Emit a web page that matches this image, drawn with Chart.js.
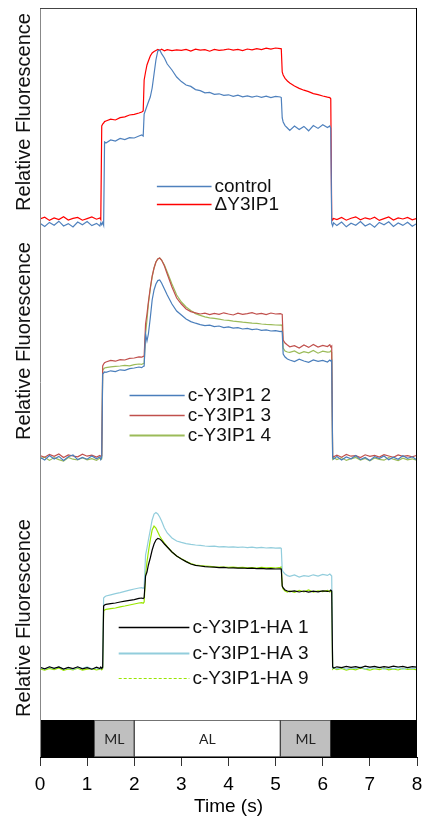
<!DOCTYPE html>
<html>
<head>
<meta charset="utf-8">
<title>Relative Fluorescence</title>
<script src="https://cdn.jsdelivr.net/npm/chart.js@4/dist/chart.umd.min.js"></script>
<style>
  html, body { margin: 0; padding: 0; background: #fff; }
  #wrap { position: relative; width: 422px; height: 819px; }
</style>
</head>
<body>
<div id="wrap"><canvas id="fluorChart"></canvas></div>
<script>
// ================= DATA =================
// time points (s), shared by every trace
const time = [
  0, 0.1, 0.2, 0.3, 0.4, 0.5, 0.6, 0.7, 0.8, 0.9, 1.0, 1.1, 1.2,
  1.27, 1.29, 1.31, 1.33, 1.35, 1.37,
  1.4, 1.5, 1.6, 1.7, 1.8, 1.9, 2.0, 2.1,
  2.16, 2.19, 2.21, 2.24, 2.27, 2.3, 2.34, 2.38, 2.42, 2.46, 2.5, 2.54, 2.58, 2.64, 2.7, 2.8, 2.9,
  3.0, 3.1, 3.2, 3.3, 3.4, 3.5, 3.6, 3.7, 3.8, 3.9, 4.0, 4.1, 4.2, 4.3, 4.4, 4.5, 4.6, 4.7, 4.8, 4.9, 5.0, 5.1,
  5.12, 5.14, 5.16, 5.2, 5.25,
  5.3, 5.4, 5.5, 5.6, 5.7, 5.8, 5.9, 6.0, 6.1,
  6.15, 6.17, 6.19, 6.21, 6.23,
  6.3, 6.4, 6.5, 6.6, 6.7, 6.8, 6.9, 7.0, 7.1, 7.2, 7.3, 7.4, 7.5, 7.6, 7.7, 7.8, 7.9, 8.0
];

// top panel
const control = [
  0.004, -0.012, 0.008, -0.006, 0.014, -0.01, 0.002, -0.015, 0.01, -0.004, 0.012, -0.008, 0.003,
  -0.01, 0.006, -0.004, 0.008, -0.006, 0.41,
  0.405, 0.42, 0.415, 0.428, 0.422, 0.432, 0.43, 0.44,
  0.445, 0.44, 0.55, 0.57, 0.59, 0.61, 0.635, 0.68, 0.75, 0.82, 0.865, 0.87, 0.852, 0.83, 0.80, 0.77, 0.735,
  0.712, 0.695, 0.688, 0.672, 0.667, 0.656, 0.658, 0.648, 0.651, 0.643, 0.646, 0.638, 0.644, 0.636, 0.641, 0.634, 0.64, 0.633, 0.639, 0.632, 0.638, 0.635,
  0.632, 0.53, 0.51, 0.492, 0.48,
  0.468, 0.49, 0.472, 0.488, 0.466, 0.492, 0.478, 0.496, 0.482,
  0.49, 0.478, 0.004, -0.01, 0.006,
  -0.008, 0.01, -0.014, 0.004, -0.006, 0.012, -0.01, 0.002, -0.016, 0.008, -0.004, 0.011, -0.012, 0.005, -0.007, 0.009, -0.011, 0.003
];
const deltaY3IP1 = [
  0.025, 0.034, 0.018, 0.03, 0.022, 0.036, 0.02, 0.028, 0.033, 0.019, 0.027, 0.035, 0.024,
  0.03, 0.022, 0.49, 0.5, 0.505, 0.512,
  0.515, 0.524, 0.52, 0.532, 0.536, 0.545, 0.548, 0.555,
  0.56, 0.565, 0.72, 0.76, 0.795, 0.815, 0.84, 0.855, 0.862, 0.868, 0.873, 0.868, 0.874, 0.866, 0.872, 0.867, 0.871,
  0.868, 0.873, 0.865, 0.874, 0.869, 0.872, 0.864, 0.873, 0.868, 0.871, 0.875, 0.869, 0.873, 0.867, 0.875, 0.871, 0.877, 0.872, 0.879, 0.874, 0.88, 0.877,
  0.876, 0.76, 0.745, 0.728, 0.715,
  0.705, 0.69, 0.678, 0.669, 0.662, 0.652, 0.647, 0.64, 0.634,
  0.632, 0.626, 0.03, 0.02, 0.028,
  0.022, 0.033, 0.019, 0.029, 0.036, 0.021, 0.031, 0.024, 0.034, 0.018, 0.027, 0.035, 0.02, 0.03, 0.025, 0.033, 0.021, 0.028
];

// middle panel
const cY3IP1_2 = [
  0.004, -0.01, 0.012, -0.005, 0.008, -0.012, 0.006, 0.015, -0.008, 0.003, -0.006, 0.01, -0.004,
  0.006, -0.008, 0.004, 0.42, 0.425, 0.43,
  0.428, 0.436, 0.432, 0.441, 0.438, 0.447, 0.45, 0.455,
  0.452, 0.458, 0.46, 0.62, 0.585, 0.62, 0.70, 0.79, 0.84, 0.87, 0.887, 0.89, 0.875, 0.845, 0.815, 0.77, 0.735,
  0.715, 0.695, 0.682, 0.674, 0.667, 0.662, 0.664, 0.657, 0.66, 0.652, 0.656, 0.649, 0.652, 0.645, 0.648, 0.642, 0.645, 0.638, 0.641, 0.635, 0.637, 0.632,
  0.634, 0.63, 0.52, 0.505, 0.495,
  0.49, 0.482, 0.494, 0.485, 0.478, 0.49, 0.483, 0.488, 0.48,
  0.49, 0.485, 0.488, 0.002, -0.006,
  0.008, -0.01, 0.005, -0.004, 0.012, -0.008, 0.003, -0.012, 0.007, -0.003, 0.01, -0.009, 0.004, -0.006, 0.011, -0.002, 0.006, -0.01
];
const cY3IP1_3 = [
  0.012, 0.004, 0.018, 0.008, 0.02, 0.002, 0.015, 0.01, 0.006, 0.019, 0.009, 0.014, 0.005,
  0.013, 0.008, 0.012, 0.46, 0.47, 0.476,
  0.48, 0.488, 0.484, 0.492, 0.49, 0.498, 0.5, 0.506,
  0.504, 0.508, 0.51, 0.67, 0.72, 0.78, 0.85, 0.91, 0.95, 0.98, 0.995, 1.0, 0.99, 0.96, 0.92, 0.855, 0.80,
  0.77, 0.745, 0.732, 0.726, 0.72, 0.724, 0.717, 0.723, 0.718, 0.726, 0.72, 0.715, 0.724, 0.718, 0.722, 0.727, 0.719, 0.723, 0.717, 0.725, 0.72, 0.722,
  0.72, 0.718, 0.59, 0.575, 0.565,
  0.556, 0.562, 0.55, 0.565, 0.553, 0.568, 0.555, 0.563, 0.557,
  0.566, 0.555, 0.56, 0.012, 0.006,
  0.014, 0.004, 0.018, 0.009, 0.012, 0.002, 0.016, 0.008, 0.013, 0.005, 0.017, 0.01, 0.003, 0.015, 0.008, 0.012, 0.006, 0.014
];
const cY3IP1_4 = [
  -0.005, 0.004, -0.012, 0.002, -0.008, -0.015, 0.003, -0.006, -0.01, 0.001, -0.009, -0.003, -0.012,
  0.0, -0.007, -0.004, 0.44, 0.445, 0.45,
  0.452, 0.456, 0.458, 0.46, 0.463, 0.461, 0.467, 0.47,
  0.468, 0.472, 0.474, 0.62, 0.69, 0.77, 0.845, 0.905, 0.95, 0.98, 0.995, 1.0, 0.99, 0.965, 0.93, 0.87, 0.815,
  0.78, 0.755, 0.737, 0.722, 0.713, 0.706, 0.701, 0.698, 0.694, 0.69, 0.688, 0.684, 0.682, 0.679, 0.677, 0.674, 0.673, 0.67, 0.668, 0.667, 0.665, 0.664,
  0.665, 0.66, 0.55, 0.535, 0.53,
  0.528, 0.535, 0.522, 0.532, 0.526, 0.538, 0.524, 0.534, 0.529,
  0.53, 0.535, 0.528, -0.005, 0.002,
  -0.008, 0.002, -0.012, -0.004, 0.003, -0.01, -0.002, -0.014, 0.0, -0.007, -0.011, 0.002, -0.006, -0.013, -0.001, -0.009, -0.004, -0.012
];

// bottom panel
const cY3IP1HA_1 = [
  0.004, -0.004, 0.006, -0.002, 0.005, -0.005, 0.003, -0.003, 0.006, -0.004, 0.002, -0.006, 0.004,
  -0.003, 0.005, -0.002, 0.004, 0.31, 0.315,
  0.318, 0.322, 0.325, 0.33, 0.334, 0.338, 0.342, 0.348,
  0.35, 0.347, 0.352, 0.46, 0.48, 0.515, 0.55, 0.59, 0.62, 0.64, 0.648, 0.645, 0.637, 0.62, 0.605, 0.58, 0.56,
  0.545, 0.532, 0.52, 0.513, 0.51, 0.507, 0.505, 0.504, 0.502, 0.503, 0.5, 0.501, 0.499, 0.5, 0.498, 0.499, 0.497, 0.498, 0.496, 0.497, 0.495, 0.496,
  0.495, 0.41, 0.40, 0.39, 0.385,
  0.382, 0.386, 0.38, 0.385, 0.379, 0.384, 0.381, 0.386, 0.383,
  0.385, 0.39, 0.385, 0.005, 0.0,
  0.006, 0.002, 0.008, 0.003, 0.007, 0.001, 0.009, 0.004, 0.008, 0.002, 0.007, 0.003, 0.009, 0.005, 0.008, 0.002, 0.007, 0.004
];
const cY3IP1HA_3 = [
  0.002, -0.006, 0.004, -0.003, 0.006, -0.005, 0.001, -0.007, 0.003, -0.002, 0.005, -0.004, 0.0,
  -0.005, 0.003, -0.002, 0.002, 0.35, 0.355,
  0.36, 0.366, 0.372, 0.377, 0.383, 0.389, 0.395, 0.4,
  0.402, 0.398, 0.404, 0.565, 0.6, 0.64, 0.69, 0.74, 0.77, 0.777, 0.77, 0.755, 0.735, 0.70, 0.675, 0.65, 0.635,
  0.628, 0.622, 0.618, 0.615, 0.613, 0.61, 0.608, 0.609, 0.606, 0.607, 0.604, 0.606, 0.603, 0.605, 0.602, 0.604, 0.601, 0.603, 0.6, 0.602, 0.599, 0.601,
  0.598, 0.49, 0.48, 0.47, 0.462,
  0.458, 0.465, 0.455, 0.462, 0.458, 0.466, 0.46, 0.468, 0.463,
  0.47, 0.465, 0.46, 0.0, 0.004,
  -0.004, 0.003, -0.006, 0.001, -0.003, 0.005, -0.005, 0.002, -0.002, 0.004, -0.006, 0.0, -0.004, 0.003, -0.005, 0.002, -0.003, 0.001
];
const cY3IP1HA_9 = [
  -0.004, -0.01, -0.002, -0.008, 0.0, -0.012, -0.005, -0.009, -0.001, -0.011, -0.006, -0.003, -0.01,
  -0.006, -0.002, -0.009, -0.004, 0.285, 0.29,
  0.293, 0.297, 0.3, 0.306, 0.31, 0.315, 0.32, 0.325,
  0.327, 0.324, 0.33, 0.47, 0.53, 0.58, 0.64, 0.69, 0.71, 0.70, 0.68, 0.66, 0.645, 0.625, 0.607, 0.58, 0.56,
  0.546, 0.533, 0.522, 0.515, 0.512, 0.51, 0.508, 0.506, 0.505, 0.504, 0.503, 0.504, 0.502, 0.503, 0.501, 0.502, 0.5, 0.503, 0.501, 0.502, 0.5, 0.503,
  0.505, 0.41, 0.395, 0.385, 0.38,
  0.385, 0.378, 0.388, 0.381, 0.39, 0.379, 0.386, 0.382, 0.388,
  0.38, 0.385, 0.38, -0.005, 0.0,
  -0.008, -0.002, -0.01, -0.004, -0.009, 0.0, -0.006, -0.011, -0.003, -0.008, -0.001, -0.009, -0.005, -0.01, -0.002, -0.007, -0.004, -0.009
];

const seriesLabels = ["control", "ΔY3IP1", "c-Y3IP1 2", "c-Y3IP1 3", "c-Y3IP1 4",
                      "c-Y3IP1-HA 1", "c-Y3IP1-HA 3", "c-Y3IP1-HA 9"];
const seriesValues = [control, deltaY3IP1, cY3IP1_2, cY3IP1_3, cY3IP1_4,
                      cY3IP1HA_1, cY3IP1HA_3, cY3IP1HA_9];

// light regime under the traces (s)
const lightStart = [0, 1.15, 2.0, 5.1, 6.17];
const lightEnd = [1.15, 2.0, 5.1, 6.17, 8];
const lightNames = ["", "ML", "AL", "ML", ""];

const xTickValues = [0, 1, 2, 3, 4, 5, 6, 7, 8];

// ================= STYLE / LAYOUT =================
const FONT = "'Liberation Sans', Arial, sans-serif";
const seriesColors = ["#4f81bd", "#ff0000", "#4a7ebb", "#c0504d", "#9bbb59",
                      "#000000", "#92cddc", "#99e600"];
const seriesAxis = ["yTop", "yTop", "yMid", "yMid", "yMid", "yLow", "yLow", "yLow"];
const legendWidth = [1.3, 1.3, 1.3, 1.3, 2, 1.5, 2, 1];
const legendDash = [[], [], [], [], [], [], [], [3, 2]];
const lightColors = ["#000000", "#bfbfbf", "#ffffff", "#bfbfbf", "#000000"];

// legend placement per series (x in s, y in panel units)
const legendFrom = [2.48, 2.48, 1.9, 1.9, 1.9, 1.67, 1.67, 1.67];
const legendTo = [3.64, 3.64, 3.07, 3.07, 3.07, 3.17, 3.17, 3.17];
const legendRow = [0.19, 0.10, 0.315, 0.215, 0.115, 0.205, 0.075, -0.05];
const titleAt = { yTop: 0.56, yMid: 0.585, yLow: 0.25 };

Chart.defaults.font.family = FONT;
Chart.defaults.color = "#000";

function panelAxis(min, max, weight) {
  return {
    type: "linear", position: "left", stack: "panels", stackWeight: weight,
    min: min, max: max,
    ticks: { display: false },
    grid: { display: false },
    border: { display: false },
    afterFit(axis) { axis.width = 40; }
  };
}

// ================= PLUGINS =================
const frame = {
  id: "frame",
  afterDatasetsDraw(chart) {
    const { ctx, chartArea: a } = chart;
    const barTop = chart.scales.yLight.top;
    ctx.save();
    ctx.lineWidth = 1;
    ctx.strokeStyle = "#888";
    ctx.beginPath(); ctx.moveTo(a.left + 0.5, a.top); ctx.lineTo(a.left + 0.5, a.bottom); ctx.stroke();
    ctx.strokeStyle = "#444";
    ctx.beginPath(); ctx.moveTo(a.left, a.top + 0.5); ctx.lineTo(a.right, a.top + 0.5); ctx.stroke();
    ctx.strokeStyle = "#000";
    ctx.beginPath(); ctx.moveTo(a.right - 0.5, a.top); ctx.lineTo(a.right - 0.5, barTop); ctx.stroke();
    ctx.restore();
  }
};

const panelText = {
  id: "panelText",
  afterDraw(chart) {
    const ctx = chart.ctx;
    const x = chart.scales.x;
    ctx.save();

    // y titles
    ctx.font = "20px " + FONT;
    ctx.fillStyle = "#111";
    ctx.textAlign = "center";
    ctx.textBaseline = "middle";
    Object.keys(titleAt).forEach(id => {
      const y = chart.scales[id].getPixelForValue(titleAt[id]);
      ctx.save();
      ctx.translate(24, y);
      ctx.rotate(-Math.PI / 2);
      ctx.fillText("Relative Fluorescence", 0, 0);
      ctx.restore();
    });

    // legends
    ctx.font = "19px " + FONT;
    ctx.textAlign = "left";
    seriesLabels.forEach((label, i) => {
      const y = Math.round(chart.scales[seriesAxis[i]].getPixelForValue(legendRow[i])) + 0.5;
      const x0 = x.getPixelForValue(legendFrom[i]);
      const x1 = x.getPixelForValue(legendTo[i]);
      ctx.strokeStyle = seriesColors[i];
      ctx.lineWidth = legendWidth[i];
      ctx.setLineDash(legendDash[i]);
      ctx.beginPath(); ctx.moveTo(x0, y); ctx.lineTo(x1, y); ctx.stroke();
      ctx.setLineDash([]);
      ctx.fillStyle = "#111";
      ctx.fillText(label, x1 + 3, y);
    });

    // light regime names
    const bar = chart.scales.yLight;
    ctx.font = "14px Lato, 'Open Sans', sans-serif";
    ctx.textAlign = "center";
    ctx.fillStyle = "#222";
    lightNames.forEach((name, i) => {
      if (!name) return;
      const cx = x.getPixelForValue((lightStart[i] + lightEnd[i]) / 2);
      ctx.fillText(name, cx, (bar.top + bar.bottom) / 2 + 1);
    });

    ctx.restore();
  }
};

// ================= CHART =================
const traceSets = seriesLabels.map((label, i) => ({
  label: label,
  data: time.map((t, k) => ({ x: t, y: seriesValues[i][k] })),
  yAxisID: seriesAxis[i],
  borderColor: seriesColors[i],
  borderWidth: 1.2,
  pointRadius: 0,
  tension: 0,
  fill: false
}));

const lightSet = {
  type: "bar",
  label: "light",
  indexAxis: "y",
  xAxisID: "x",
  yAxisID: "yLight",
  data: lightStart.map((s, i) => ({ x: [s, lightEnd[i]], y: "light" })),
  backgroundColor: lightColors,
  borderColor: ["#000", "#444", "#444", "#444", "#000"],
  borderWidth: 1,
  borderSkipped: false,
  barPercentage: 1,
  categoryPercentage: 1
};

new Chart(document.getElementById("fluorChart"), {
  type: "line",
  data: { datasets: traceSets.concat([lightSet]) },
  options: {
    responsive: true,
    maintainAspectRatio: false,
    animation: false,
    events: [],
    layout: { padding: { top: 8, right: 5, left: 0, bottom: 0 } },
    plugins: { legend: { display: false }, tooltip: { enabled: false } },
    scales: {
      x: {
        type: "linear", position: "bottom", min: 0, max: 8,
        afterBuildTicks(axis) { axis.ticks = xTickValues.map(v => ({ value: v })); },
        ticks: { color: "#000", font: { size: 19 }, padding: 7 },
        grid: { drawOnChartArea: false, drawTicks: true, tickLength: 9, color: "#333" },
        border: { display: true, color: "#000" },
        title: { display: true, text: "Time (s)", color: "#000", font: { size: 19 }, padding: { top: 0, bottom: 1 } },
        afterFit(axis) { axis.height = 62; axis.paddingLeft = 0; axis.paddingRight = 0; }
      },
      yLight: {
        type: "category", labels: ["light"], position: "left", stack: "panels", stackWeight: 37,
        offset: true,
        ticks: { display: false },
        grid: { display: false },
        border: { display: false },
        afterFit(axis) { axis.width = 40; }
      },
      yLow: panelAxis(-0.26, 0.965, 245),
      yMid: panelAxis(-0.085, 1.11, 239),
      yTop: panelAxis(-0.06, 1.08, 228)
    }
  },
  plugins: [frame, panelText]
});
</script>
</body>
</html>
